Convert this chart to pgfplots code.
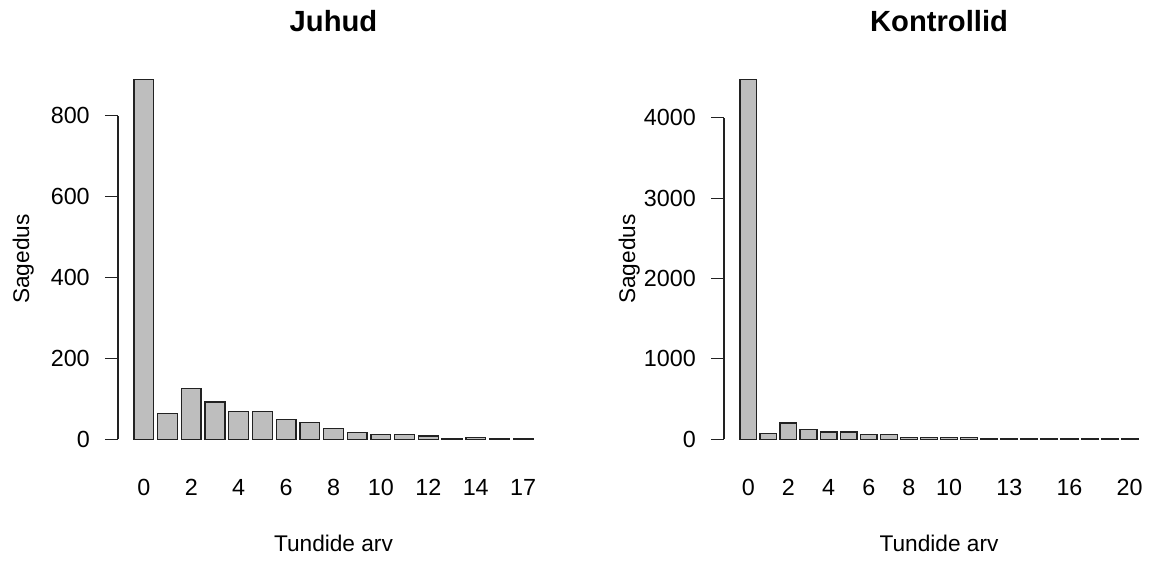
\documentclass[border=0pt]{standalone}
\usepackage{fontspec}
\setmainfont{Liberation Sans}
\usepackage{pgfplots}
\pgfplotsset{compat=1.18}

\definecolor{bargray}{HTML}{BEBEBE}
\definecolor{edge}{HTML}{222222}

\newcommand{\lab}{\fontsize{17}{20}\selectfont}
\newcommand{\tck}{\fontsize{17.5}{20}\selectfont}
\newcommand{\ttl}{\fontsize{21.9}{26}\selectfont\bfseries}

\pgfplotsset{rbar/.style={
  scale only axis, anchor=south west,
  axis x line=bottom, axis y line=left,
  x axis line style={draw=none}, y axis line style={draw=none},
  major x tick style={draw=none},
  tick align=outside, major tick length=9.75pt,
  major y tick style={edge, line width=0.9pt},
  clip=false,
  /pgf/number format/assume math mode=true,
  /pgf/number format/1000 sep={},
  scaled y ticks=false,
  ticklabel style={font=\tck},
  yticklabel style={anchor=east, inner sep=0pt, xshift=-11.25pt},
  xticklabel style={anchor=base, inner sep=0pt, yshift=-21.5pt},
}}

\begin{document}
\begin{tikzpicture}
\useasboundingbox (0,0) rectangle (861.75pt,420.75pt);

% ---------------- Juhud ----------------
\begin{axis}[rbar,
  at={(88.5pt,80.55pt)}, width=323.25pt, height=291.5pt,
  xmin=-1.09, xmax=17.09, ymin=-35.6, ymax=925.6,
  ytick={0,200,400,600,800},
  xtick={0,...,16},
  xticklabels={0,,2,,4,,6,,8,,10,,12,,14,,17},
]
\addplot[ybar, bar width=0.8333, bar shift=0pt, fill=bargray, draw=edge, line width=1pt]
  coordinates {(0,890) (1,64) (2,125) (3,92) (4,68) (5,68) (6,49) (7,42) (8,27)
               (9,17) (10,12) (11,12) (12,8) (13,1) (14,4) (15,1) (16,1)};
\addplot[edge, line width=0.9pt, forget plot] coordinates {(-1.09,0) (-1.09,800)};
\end{axis}

% ---------------- Kontrollid ----------------
\begin{axis}[rbar,
  at={(543pt,80.55pt)}, width=322.5pt, height=291.5pt,
  xmin=-1.21, xmax=20.21, ymin=-179.2, ymax=4659,
  ytick={0,1000,2000,3000,4000},
  xtick={0,...,19},
  xticklabels={0,,2,,4,,6,,8,,10,,,13,,,16,,,20},
]
\addplot[ybar, bar width=0.8333, bar shift=0pt, fill=bargray, draw=edge, line width=1pt]
  coordinates {(0,4480) (1,70) (2,203) (3,124) (4,91) (5,91) (6,58) (7,58) (8,18)
               (9,20) (10,20) (11,20) (12,3) (13,2) (14,2) (15,2) (16,2) (17,2) (18,2) (19,2)};
\addplot[edge, line width=0.9pt, forget plot] coordinates {(-1.21,0) (-1.21,4000)};
\end{axis}

% titles and labels
\node[font=\ttl, anchor=base] at (250.1pt,397.0pt) {Juhud};
\node[font=\ttl, anchor=base] at (704.25pt,397.0pt) {Kontrollid};
\node[font=\lab, anchor=base] at (250.1pt,7.2pt) {Tundide arv};
\node[font=\lab, anchor=base] at (704.25pt,7.2pt) {Tundide arv};
\node[font=\lab, anchor=base, rotate=90] at (21.75pt,226.5pt) {Sagedus};
\node[font=\lab, anchor=base, rotate=90] at (476.25pt,226.5pt) {Sagedus};
\end{tikzpicture}
\end{document}
